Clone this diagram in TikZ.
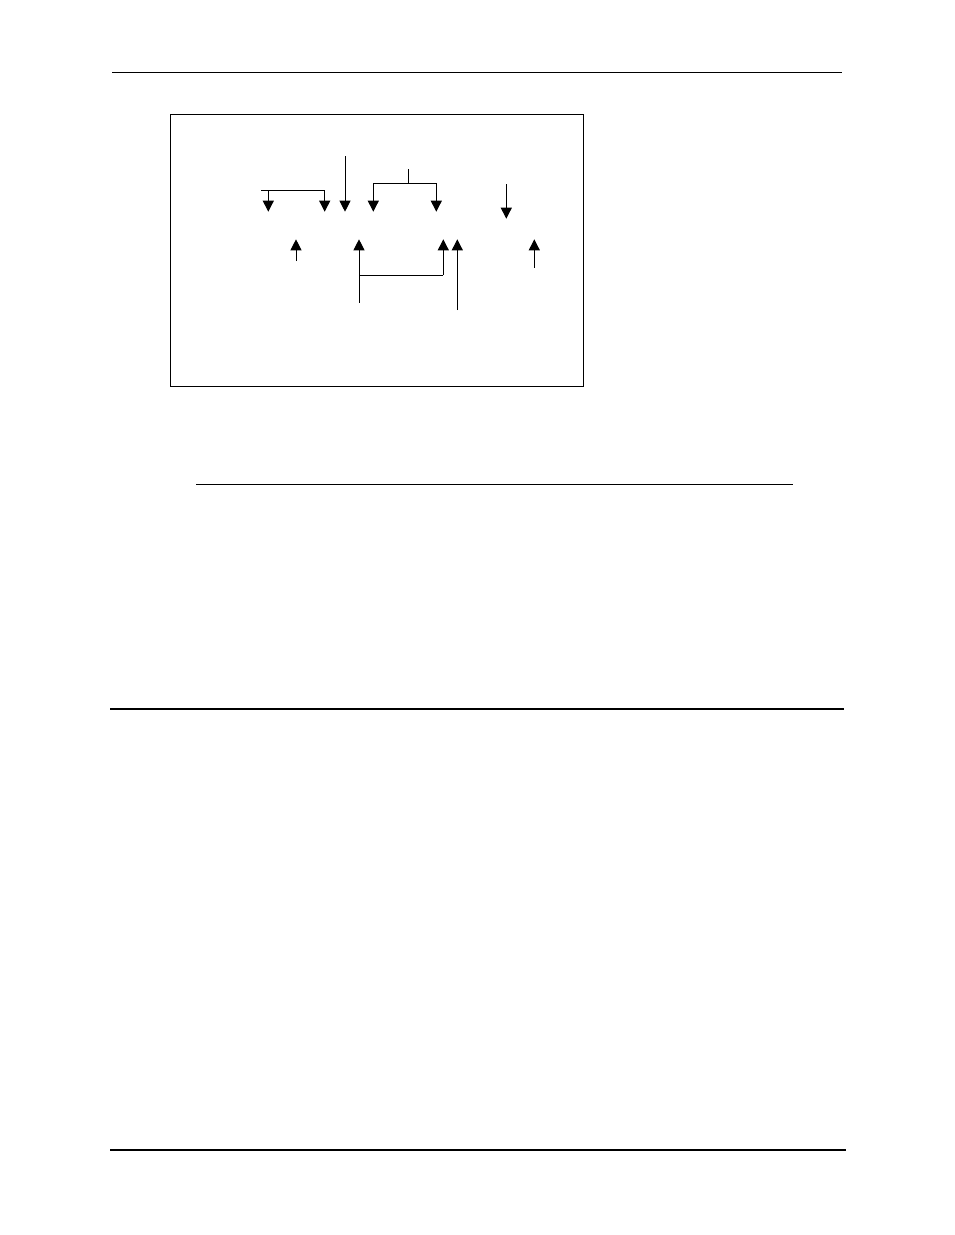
\documentclass[tikz,border=0pt]{standalone}
\usetikzlibrary{arrows.meta}
\begin{document}
\begin{tikzpicture}[x=1pt,y=-1pt,
  thinline/.style={line width=1pt,line cap=butt},
  thickline/.style={line width=2.4pt},
  arr/.style={line width=1pt,-{Triangle[width=11pt,length=11pt]}},
  frame/.style={draw,line width=1pt}]
\useasboundingbox (0,0) rectangle (954,1235);
% page rules
\coordinate (t1) at (112,72.3); \coordinate (t2) at (842,72.3);
\draw[thinline] (t1) -- (t2);
\coordinate (m1) at (196,484.3); \coordinate (m2) at (792.5,484.3);
\draw[thinline] (m1) -- (m2);
\coordinate (h1) at (110,709); \coordinate (h2) at (844,709);
\draw[thickline] (h1) -- (h2);
\coordinate (b1) at (110,1150); \coordinate (b2) at (846,1150);
\draw[thickline] (b1) -- (b2);
% box
\node[frame,minimum width=413pt,minimum height=272.7pt,inner sep=0pt,anchor=north west] (box) at (169.5,113.5) {};
% down arrows, row 1
\coordinate (br1) at (261,190.3);
\coordinate (d1) at (268.3,211.7); \coordinate (d2) at (324.7,211.7);
\draw[thinline] (br1) -- (d2|-br1);
\draw[arr] (d1|-br1) -- (d1);
\draw[arr] (d2|-br1) -- (d2);
\coordinate (s3) at (345,156); \coordinate (d3) at (345,211.7);
\draw[arr] (s3) -- (d3);
\coordinate (s4) at (408.7,169); \coordinate (j4) at (408.7,183);
\coordinate (d4) at (373.3,211.7); \coordinate (d5) at (436.3,211.7);
\draw[thinline] (s4) -- (j4);
\draw[thinline] (d4|-j4) -- (d5|-j4);
\draw[arr] (d4|-j4) -- (d4);
\draw[arr] (d5|-j4) -- (d5);
\coordinate (s6) at (506.3,184); \coordinate (d6) at (506.3,218.7);
\draw[arr] (s6) -- (d6);
% up arrows, row 2
\coordinate (s7) at (296,261); \coordinate (u7) at (296,239.3);
\draw[arr] (s7) -- (u7);
\coordinate (s8) at (359,302.7); \coordinate (u8) at (359,239.3);
\draw[arr] (s8) -- (u8);
\coordinate (j9) at (359,275); \coordinate (u9) at (443.3,239.3);
\draw[thinline] (j9) -- (u9|-j9);
\draw[arr] (u9|-j9) -- (u9);
\coordinate (s10) at (457.3,310); \coordinate (u10) at (457.3,239.3);
\draw[arr] (s10) -- (u10);
\coordinate (s11) at (534.3,267.7); \coordinate (u11) at (534.3,239.3);
\draw[arr] (s11) -- (u11);
\end{tikzpicture}
\end{document}
